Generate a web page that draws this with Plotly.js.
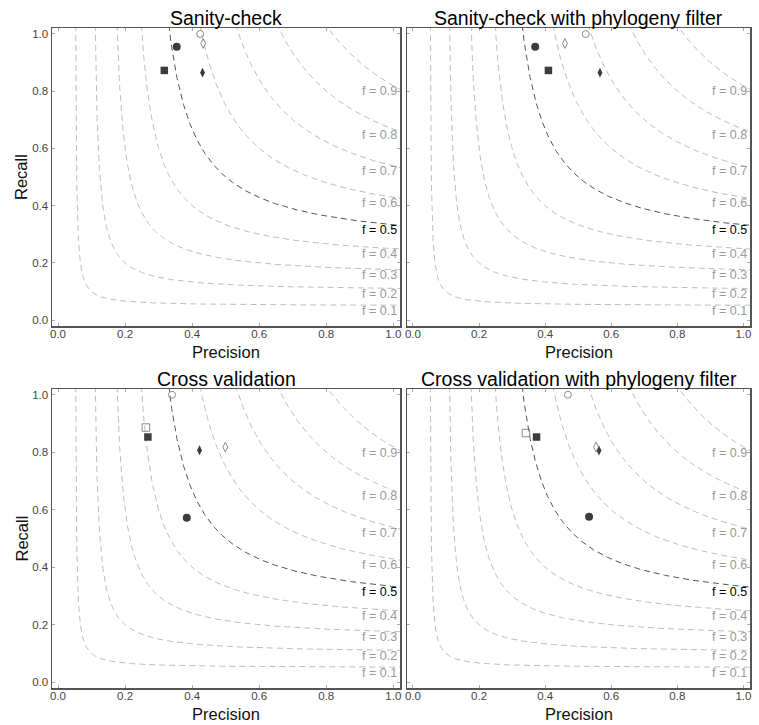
<!DOCTYPE html>
<html>
<head>
<meta charset="utf-8">
<script src="https://cdn.plot.ly/plotly-3.0.1.min.js"></script>
<style>html,body{margin:0;padding:0;background:#fff;}#chart{width:759px;height:725px;}</style>
</head>
<body>
<div id="chart"></div>
<script>
// ---- data ----
const panelTitles = ['Sanity-check', 'Sanity-check with phylogeny filter', 'Cross validation', 'Cross validation with phylogeny filter'];
const fLevels = [0.1, 0.2, 0.3, 0.4, 0.5, 0.6, 0.7, 0.8, 0.9];
const fLabels = ['f = 0.1', 'f = 0.2', 'f = 0.3', 'f = 0.4', 'f = 0.5', 'f = 0.6', 'f = 0.7', 'f = 0.8', 'f = 0.9'];
const tickValues = [0, 0.2, 0.4, 0.6, 0.8, 1.0];
const tickLabels = ['0.0', '0.2', '0.4', '0.6', '0.8', '1.0'];
// method order: filled circle, filled square, filled diamond, open circle, open diamond, open square
const methods = ['m1', 'm2', 'm3', 'm4', 'm5', 'm6'];
const sanityPrecision      = [0.354, 0.317, 0.431, 0.424, 0.433, null];
const sanityRecall         = [0.955, 0.872, 0.864, 0.999, 0.966, null];
const sanityPhyloPrecision = [0.370, 0.410, 0.566, 0.523, 0.460, null];
const sanityPhyloRecall    = [0.955, 0.872, 0.864, 0.999, 0.966, null];
const cvPrecision          = [0.384, 0.268, 0.422, 0.340, 0.499, 0.262];
const cvRecall             = [0.572, 0.853, 0.807, 1.000, 0.818, 0.886];
const cvPhyloPrecision     = [0.533, 0.374, 0.563, 0.469, 0.554, 0.342];
const cvPhyloRecall        = [0.576, 0.853, 0.806, 1.000, 0.818, 0.867];

const panelPrecision = [sanityPrecision, sanityPhyloPrecision, cvPrecision, cvPhyloPrecision];
const panelRecall = [sanityRecall, sanityPhyloRecall, cvRecall, cvPhyloRecall];

// ---- styles ----
const FONT = 'Liberation Sans, Arial, Helvetica, sans-serif';
const dark = '#3c3c3c';
const openCol = '#8a8a8a';
const markerStyles = [
  {symbol: 'circle', size: 8, color: dark, line: {width: 0}},
  {symbol: 'square', size: 7.5, color: dark, line: {width: 0}},
  {symbol: 'diamond-tall', size: 7, color: dark, line: {width: 0}},
  {symbol: 'circle-open', size: 7, color: openCol, line: {width: 1, color: openCol}},
  {symbol: 'diamond-tall-open', size: 7, color: openCol, line: {width: 1, color: openCol}},
  {symbol: 'square-open', size: 7.5, color: openCol, line: {width: 1, color: openCol}}
];

const W = 759, H = 725;
const xDom = [[52 / W, 400 / W], [407 / W, 750 / W]];
const yDom = [[1 - 326 / H, 1 - 28 / H], [1 - 688 / H, 1 - 389 / H]];
const xRange = [-0.018, 1.02];
const yRange = [-0.02, 1.02];

function isoline(f) {
  const xs = [], ys = [];
  const pStart = f * 1.1 / (2.2 - f);
  const d0 = pStart - f / 2, d1 = 1.05 - f / 2;
  const n = 400;
  for (let i = 0; i <= n; i++) {
    const d = d0 * Math.pow(d1 / d0, i / n);
    const p = f / 2 + d;
    xs.push(p);
    ys.push(f * p / (2 * p - f));
  }
  return {xs, ys};
}

const traces = [];
const annotations = [];
const layout = {
  width: W, height: H,
  margin: {l: 0, r: 0, t: 0, b: 0},
  paper_bgcolor: '#fff', plot_bgcolor: '#fff',
  showlegend: false,
  font: {family: FONT, color: '#333'},
  annotations: annotations
};

for (let k = 0; k < 4; k++) {
  const col = k % 2, row = Math.floor(k / 2);
  const sfx = k === 0 ? '' : String(k + 1);
  const xa = 'x' + sfx, ya = 'y' + sfx;
  const axCommon = {
    showline: true, mirror: 'allticks', linecolor: '#555', linewidth: 1.5,
    ticks: 'inside', ticklen: 3, tickwidth: 1, tickcolor: '#aaa',
    showgrid: false, zeroline: false,
    tickvals: tickValues, ticktext: tickLabels,
    tickfont: {family: FONT, size: 11.5, color: '#444'},
    fixedrange: true
  };
  layout['xaxis' + sfx] = Object.assign({}, axCommon, {
    domain: xDom[col], range: xRange, anchor: ya, ticklabelstandoff: -3
  });
  layout['yaxis' + sfx] = Object.assign({}, axCommon, {
    domain: yDom[row], range: yRange, anchor: xa,
    showticklabels: col === 0, ticklabelstandoff: 0
  });

  // isolines
  fLevels.forEach((f, i) => {
    const c = isoline(f);
    traces.push({
      type: 'scatter', mode: 'lines', x: c.xs, y: c.ys, xaxis: xa, yaxis: ya,
      line: {color: f === 0.5 ? '#555' : '#bdbdbd', width: 1, dash: '6px,4px'},
      hoverinfo: 'skip'
    });
    annotations.push({
      xref: xa, yref: ya, x: 1.0, y: f / (2 - f), xanchor: 'right', yanchor: 'middle',
      xshift: 6, yshift: -5.5, showarrow: false, text: fLabels[i],
      font: {family: FONT, size: 12.5, color: f === 0.5 ? '#000' : '#999'}
    });
  });

  // markers
  methods.forEach((m, j) => {
    const px = panelPrecision[k][j], ry = panelRecall[k][j];
    if (px === null || ry === null) return;
    traces.push({
      type: 'scatter', mode: 'markers', name: m, x: [px], y: [ry], xaxis: xa, yaxis: ya,
      marker: markerStyles[j], cliponaxis: false
    });
  });

  // panel title
  const cx = (xDom[col][0] + xDom[col][1]) / 2;
  annotations.push({
    xref: 'paper', yref: 'paper', x: cx, y: 1 - (row === 0 ? 18 : 379) / H,
    xanchor: 'center', yanchor: 'middle', showarrow: false, text: panelTitles[k],
    font: {family: FONT, size: 19.5, color: '#000'}
  });
  // x-axis title
  annotations.push({
    xref: 'paper', yref: 'paper', x: cx, y: 1 - (row === 0 ? 352 : 714) / H,
    xanchor: 'center', yanchor: 'middle', showarrow: false, text: 'Precision',
    font: {family: FONT, size: 16.5, color: '#111'}
  });
  // y-axis title
  if (col === 0) {
    const cy = (yDom[row][0] + yDom[row][1]) / 2;
    annotations.push({
      xref: 'paper', yref: 'paper', x: 21 / W, y: cy,
      xanchor: 'center', yanchor: 'middle', showarrow: false, text: 'Recall', textangle: -90,
      font: {family: FONT, size: 16.5, color: '#111'}
    });
  }
}

Plotly.newPlot('chart', traces, layout, {staticPlot: true, displayModeBar: false});
</script>
</body>
</html>
